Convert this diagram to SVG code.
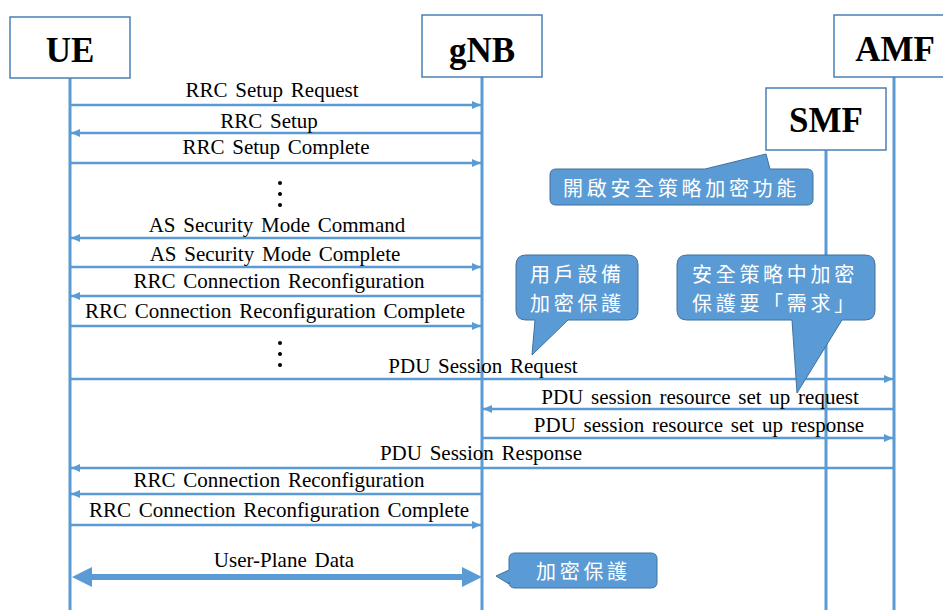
<svg xmlns="http://www.w3.org/2000/svg" width="943" height="610" viewBox="0 0 943 610">
<defs>
<style>
.box{fill:#fff;stroke:#4a7fb5;stroke-width:1.5}
.lbl{font-family:"Liberation Serif","Times New Roman",serif;font-weight:bold;font-size:35px;fill:#000;text-anchor:middle}
.life{stroke:#5b9bd5;stroke-width:3;fill:none}
.msg{stroke:#5b9bd5;stroke-width:2.5;fill:none;marker-end:url(#ah)}
.mt{font-family:"Liberation Serif","Times New Roman",serif;font-size:21px;fill:#000;text-anchor:middle;word-spacing:2.5px}
.co{fill:#5b9bd5;stroke:#41719c;stroke-width:1}
.ct{font-family:"Noto Sans CJK TC","Noto Sans CJK SC",sans-serif;font-size:20px;fill:#fff;letter-spacing:3.7px}
.dot{fill:#000}
</style>
<marker id="ah" markerUnits="userSpaceOnUse" markerWidth="9" markerHeight="8" refX="9" refY="4" orient="auto">
<path d="M0,0 L9,4 L0,8 z" fill="#5b9bd5"/>
</marker>
</defs>
<rect width="943" height="610" fill="#fff"/>
<g id="lifelines">
<line class="life" x1="70" y1="78" x2="70" y2="610"/>
<line class="life" x1="482" y1="77" x2="482" y2="610"/>
<line class="life" x1="826" y1="150" x2="826" y2="610"/>
<line class="life" x1="894" y1="77" x2="894" y2="610"/>
</g>
<g id="UE"><rect class="box" x="10" y="17" width="120" height="61"/><text class="lbl" x="70" y="62">UE</text></g>
<g id="gNB"><rect class="box" x="422" y="15" width="120" height="62"/><text class="lbl" x="482" y="62">gNB</text></g>
<g id="AMF"><rect class="box" x="834" y="15" width="120" height="62"/><text class="lbl" x="895" y="61">AMF</text></g>
<g id="SMF"><rect class="box" x="766" y="88" width="120" height="62"/><text class="lbl" x="826" y="132">SMF</text></g>
<g id="connectors">
<line class="msg" x1="70" y1="105" x2="481" y2="105"/>
<text class="mt" x="272" y="97">RRC Setup Request</text>
<line class="msg" x1="482" y1="133" x2="71" y2="133"/>
<text class="mt" x="269" y="128">RRC Setup</text>
<line class="msg" x1="70" y1="163" x2="481" y2="163"/>
<text class="mt" x="276" y="154">RRC Setup Complete</text>
<line class="msg" x1="482" y1="238" x2="71" y2="238"/>
<text class="mt" x="277" y="232">AS Security Mode Command</text>
<line class="msg" x1="70" y1="267" x2="481" y2="267"/>
<text class="mt" x="275" y="261">AS Security Mode Complete</text>
<line class="msg" x1="482" y1="296" x2="71" y2="296"/>
<text class="mt" x="279" y="288">RRC Connection Reconfiguration</text>
<line class="msg" x1="70" y1="326" x2="481" y2="326"/>
<text class="mt" x="275" y="318">RRC Connection Reconfiguration Complete</text>
<line class="msg" x1="70" y1="379" x2="893" y2="379"/>
<text class="mt" x="483" y="373">PDU Session Request</text>
<line class="msg" x1="894" y1="409" x2="483" y2="409"/>
<text class="mt" x="700" y="404">PDU session resource set up request</text>
<line class="msg" x1="482" y1="438" x2="893" y2="438"/>
<text class="mt" x="699" y="432">PDU session resource set up response</text>
<line class="msg" x1="894" y1="468" x2="71" y2="468"/>
<text class="mt" x="481" y="460">PDU Session Response</text>
<line class="msg" x1="482" y1="494" x2="71" y2="494"/>
<text class="mt" x="279" y="487">RRC Connection Reconfiguration</text>
<line class="msg" x1="70" y1="525" x2="481" y2="525"/>
<text class="mt" x="279" y="517">RRC Connection Reconfiguration Complete</text>
<path d="M92,574 L462,574 L462,567 L482,577 L462,587 L462,580 L92,580 L92,587 L72,577 L92,567 Z" fill="#5b9bd5"/>
<text class="mt" x="284" y="567">User-Plane Data</text>
</g>
<g id="dots1"><circle class="dot" cx="280" cy="183" r="2"/><circle class="dot" cx="280" cy="194" r="2"/><circle class="dot" cx="280" cy="205" r="2"/></g>
<g id="dots2"><circle class="dot" cx="280" cy="343" r="2"/><circle class="dot" cx="280" cy="354" r="2"/><circle class="dot" cx="280" cy="365" r="2"/></g>
<g id="callout1">
<path class="co" d="M556,169 L705,169 L766,154 L770,169 L807,169 Q813,169 813,175 L813,199 Q813,205 807,205 L556,205 Q550,205 550,199 L550,175 Q550,169 556,169 Z"/>
<text class="ct" x="563" y="196">開啟安全策略加密功能</text>
</g>
<g id="callout2">
<path class="co" d="M526,255 L628,255 Q638,255 638,265 L638,310 Q638,320 628,320 L568,320 L532,355 L535,320 L526,320 Q516,320 516,310 L516,265 Q516,255 526,255 Z"/>
<text class="ct" x="530" y="282">用戶設備</text>
<text class="ct" x="530" y="311">加密保護</text>
</g>
<g id="callout3">
<path class="co" d="M687,255 L865,255 Q875,255 875,265 L875,310 Q875,320 865,320 L842,320 L797,393 L792,320 L687,320 Q677,320 677,310 L677,265 Q677,255 687,255 Z"/>
<text class="ct" x="692" y="282">安全策略中加密</text>
<text class="ct" x="692" y="311">保護要「需求」</text>
</g>
<g id="callout4">
<path class="co" d="M515,553 L651,553 Q657,553 657,559 L657,582 Q657,588 651,588 L515,588 Q509,588 509,582 L509,584 L496,576 L509,570 L509,559 Q509,553 515,553 Z"/>
<text class="ct" x="536" y="579">加密保護</text>
</g>
</svg>
